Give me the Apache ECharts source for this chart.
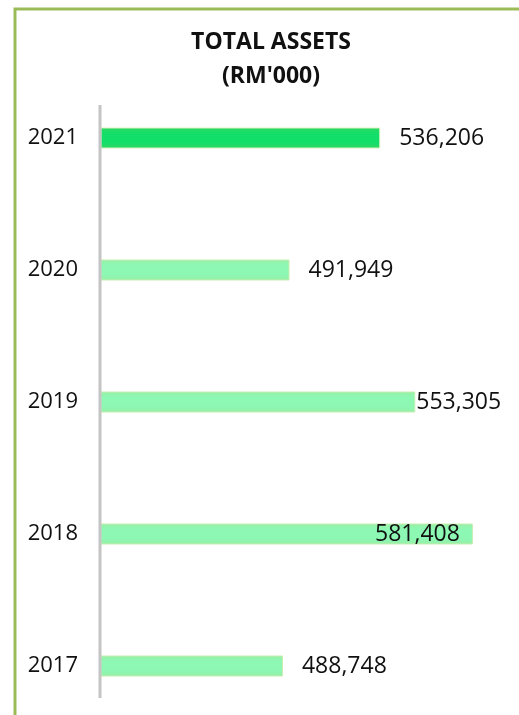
<!DOCTYPE html>
<html>
<head>
<meta charset="utf-8">
<style>
  html, body { margin: 0; padding: 0; background: #fff; }
  #chart { width: 519px; height: 715px; }
</style>
<script src="https://cdn.jsdelivr.net/npm/echarts@6/dist/echarts.min.js"></script>
</head>
<body>
<div id="chart"></div>
<script>
// Total assets by year (RM'000), top to bottom as drawn
const years = ['2021', '2020', '2019', '2018', '2017'];
const totalAssets = [536206, 491949, 553305, 581408, 488748];
const titleLines = ['TOTAL ASSETS', "(RM'000)"];

// Label placement per bar: offset to the right of the bar end, or inside
const labelPlacement = ['right', 'right', 'flush', 'inside', 'right'];

const fmt = v => v.toLocaleString('en-US');

const chart = echarts.init(document.getElementById('chart'));

const barData = totalAssets.map((v, i) => {
  const latest = i === 0;
  const place = labelPlacement[i];
  const label = place === 'inside'
    ? { position: 'insideRight', distance: 13 }
    : { position: 'right', distance: place === 'flush' ? 1 : 19 };
  return {
    value: v,
    itemStyle: {
      color: latest
        ? new echarts.graphic.LinearGradient(0, 0, 0, 1, [
            { offset: 0, color: '#2ED862' },
            { offset: 0.3, color: '#12DF69' },
            { offset: 0.7, color: '#12DF69' },
            { offset: 1, color: '#2ED862' }
          ])
        : new echarts.graphic.LinearGradient(0, 0, 0, 1, [
            { offset: 0, color: '#96EFA6' },
            { offset: 0.3, color: '#8CF8B4' },
            { offset: 0.7, color: '#8CF8B4' },
            { offset: 1, color: '#96EFA6' }
          ]),
      borderColor: latest ? '#D8F0C0' : '#C8EDB0',
      borderWidth: 1
    },
    label: label
  };
});

chart.setOption({
  animation: false,
  backgroundColor: '#ffffff',
  textStyle: { fontFamily: '"Open Sans", sans-serif' },
  title: {
    text: titleLines.join('\n'),
    left: 266,
    top: 20,
    textAlign: 'center',
    textStyle: {
      fontFamily: '"Open Sans", sans-serif',
      fontWeight: 'bold',
      fontSize: 23,
      lineHeight: 34,
      color: '#111111'
    }
  },
  // categories sit on the ticks: first at the top edge, last at the bottom edge
  grid: { left: 101, width: 410, top: 138, height: 528, containLabel: false },
  xAxis: {
    type: 'value',
    min: 400000,
    max: 600000,
    show: false
  },
  yAxis: {
    type: 'category',
    data: years,
    inverse: true,
    boundaryGap: false,
    axisLine: { show: false },
    axisTick: { show: false },
    splitLine: { show: false },
    axisLabel: {
      margin: 23,
      fontSize: 22,
      color: '#111111',
      fontFamily: '"Open Sans", sans-serif'
    }
  },
  series: [{
    type: 'bar',
    data: barData,
    barWidth: 21,
    label: {
      show: true,
      fontSize: 23,
      color: '#111111',
      fontFamily: '"Open Sans", sans-serif',
      formatter: p => fmt(p.value)
    }
  }],
  graphic: [
    {
      // frame on the left and top edges
      type: 'polyline',
      shape: { points: [[15, 720], [15, 9], [525, 9]] },
      style: { stroke: '#9BBB59', lineWidth: 3, fill: null }
    },
    {
      // category axis line
      type: 'line',
      shape: { x1: 100, y1: 105, x2: 100, y2: 698 },
      style: { stroke: '#C4C4C4', lineWidth: 3 },
      z: 10
    }
  ]
});
</script>
</body>
</html>
